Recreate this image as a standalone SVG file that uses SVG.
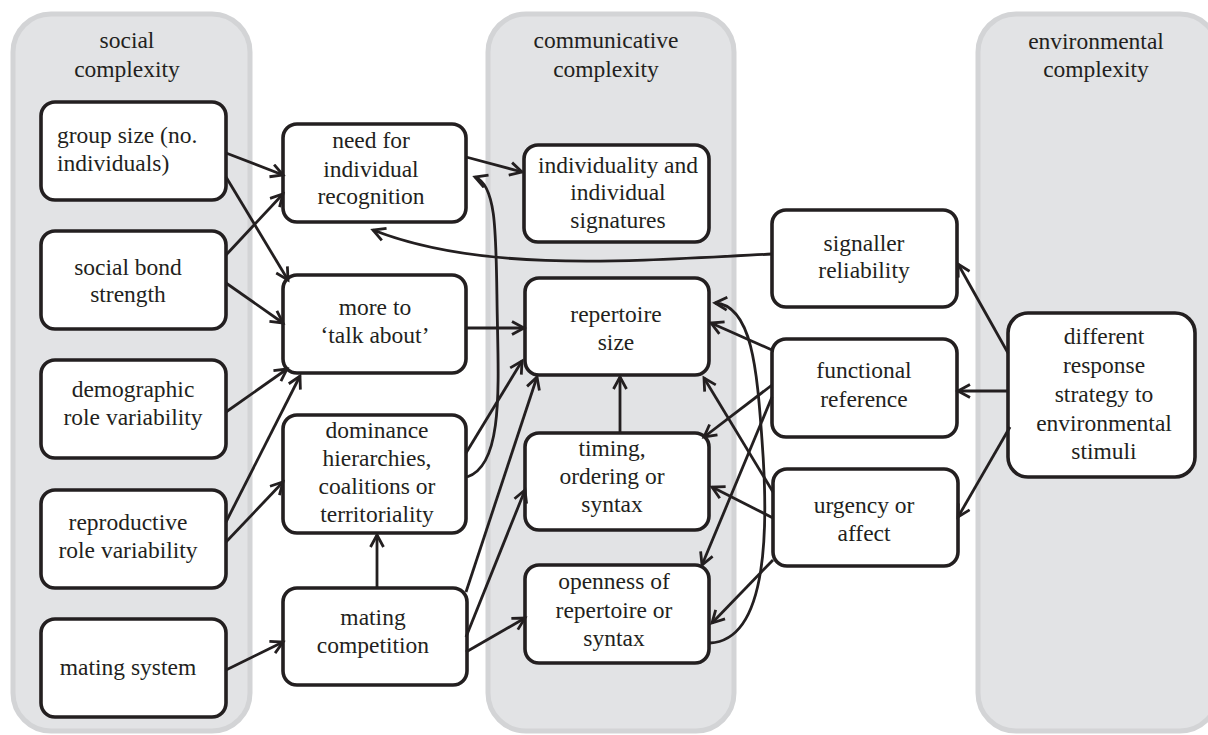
<svg xmlns="http://www.w3.org/2000/svg" width="1208" height="735" viewBox="0 0 1208 735">
<style>
.panel{fill:#e2e3e5;stroke:#d3d4d6;stroke-width:5}
.box{fill:#fff;stroke:#231f20;stroke-width:3.6}
text{font-family:'Liberation Serif','DejaVu Serif',serif;font-size:23.5px;fill:#231f20;text-anchor:middle}
text.l{text-anchor:start}
.c{fill:none;stroke:#231f20;stroke-width:2.8;marker-end:url(#ah)}
</style>
<defs>
<marker id="ah" markerUnits="userSpaceOnUse" markerWidth="18" markerHeight="18" viewBox="0 0 18 18" refX="14" refY="8" orient="auto">
<path d="M2,1.5 L14,8 L2,14.5" fill="none" stroke="#231f20" stroke-width="2.8" stroke-linejoin="miter"/>
</marker>
</defs>
<rect width="1208" height="735" fill="#fff"/>
<g id="panels">
<rect class="panel" x="13" y="14" width="237" height="717" rx="38"/>
<rect class="panel" x="488" y="14" width="246" height="717" rx="38"/>
<rect class="panel" x="978" y="14" width="240" height="717" rx="38"/>
<text x="127" y="48">social</text>
<text x="127" y="77">complexity</text>
<text x="606" y="48">communicative</text>
<text x="606" y="77">complexity</text>
<text x="1096" y="49">environmental</text>
<text x="1096" y="77">complexity</text>
</g>
<g id="group-size"><rect class="box" x="41" y="102" width="185" height="98" rx="14"/><text class="l" x="57" y="143">group size (no.</text><text class="l" x="57" y="171">individuals)</text></g>
<g id="social-bond"><rect class="box" x="41" y="231" width="185" height="98" rx="14"/><text x="128" y="275">social bond</text><text x="128" y="302">strength</text></g>
<g id="demographic"><rect class="box" x="41" y="360" width="185" height="98" rx="14"/><text x="133" y="397">demographic</text><text x="133" y="425">role variability</text></g>
<g id="reproductive"><rect class="box" x="41" y="490" width="185" height="98" rx="14"/><text x="128" y="530">reproductive</text><text x="128" y="558">role variability</text></g>
<g id="mating-system"><rect class="box" x="41" y="619" width="185" height="98" rx="14"/><text x="128" y="675">mating system</text></g>
<g id="need-for"><rect class="box" x="283" y="124" width="183" height="98" rx="14"/><text x="371" y="148">need for</text><text x="371" y="177">individual</text><text x="371" y="204">recognition</text></g>
<g id="more-to"><rect class="box" x="283" y="275" width="183" height="98" rx="14"/><text x="375" y="315">more to</text><text x="375" y="343">‘talk about’</text></g>
<g id="dominance"><rect class="box" x="283" y="415" width="183" height="118" rx="14"/><text x="377" y="438">dominance</text><text x="377" y="466">hierarchies,</text><text x="377" y="494">coalitions or</text><text x="377" y="522">territoriality</text></g>
<g id="mating-competition"><rect class="box" x="283" y="588" width="184" height="97" rx="14"/><text x="373" y="625">mating</text><text x="373" y="653">competition</text></g>
<g id="individuality"><rect class="box" x="524" y="145" width="185" height="97" rx="14"/><text x="618" y="173">individuality and</text><text x="618" y="200">individual</text><text x="618" y="228">signatures</text></g>
<g id="repertoire"><rect class="box" x="525" y="278" width="184" height="97" rx="14"/><text x="616" y="322">repertoire</text><text x="616" y="350">size</text></g>
<g id="timing"><rect class="box" x="525" y="433" width="184" height="97" rx="14"/><text x="612" y="456">timing,</text><text x="612" y="484">ordering or</text><text x="612" y="512">syntax</text></g>
<g id="openness"><rect class="box" x="525" y="565" width="184" height="98" rx="14"/><text x="614" y="589">openness of</text><text x="614" y="618">repertoire or</text><text x="614" y="646">syntax</text></g>
<g id="signaller"><rect class="box" x="772" y="210" width="185" height="97" rx="14"/><text x="864" y="251">signaller</text><text x="864" y="278">reliability</text></g>
<g id="functional"><rect class="box" x="772" y="339" width="185" height="98" rx="14"/><text x="864" y="378">functional</text><text x="864" y="407">reference</text></g>
<g id="urgency"><rect class="box" x="773" y="469" width="185" height="97" rx="14"/><text x="864" y="513">urgency or</text><text x="864" y="541">affect</text></g>
<g id="different"><rect class="box" x="1008" y="313" width="187" height="164" rx="20"/><text x="1104" y="344">different</text><text x="1104" y="373">response</text><text x="1104" y="402">strategy to</text><text x="1104" y="431">environmental</text><text x="1104" y="459">stimuli</text></g>
<g id="connectors">
<path class="c" d="M226,153 L283,175"/>
<path class="c" d="M226,177 L288,280"/>
<path class="c" d="M226,255 L283,194"/>
<path class="c" d="M226,283 L283,323"/>
<path class="c" d="M226,412 L287,369"/>
<path class="c" d="M226,522 L300,376"/>
<path class="c" d="M226,542 L283,482"/>
<path class="c" d="M226,670 L283,642"/>
<path class="c" d="M377,588 L377,535"/>
<path class="c" d="M466,157 L522,172"/>
<path class="c" d="M466,328 L524,328"/>
<path class="c" d="M466,453 L522,361"/>
<path class="c" d="M467,477 C505,465 498,380 497,300 C496,230 496,185 475,177"/>
<path class="c" d="M466,592 L537,377"/>
<path class="c" d="M466,637 L525,490"/>
<path class="c" d="M466,652 L525,618"/>
<path class="c" d="M620,433 L620,377"/>
<path class="c" d="M772,254 C620,262 480,272 373,230"/>
<path class="c" d="M772,350 L711,323"/>
<path class="c" d="M710,643 C770,640 768,520 762,440 C757,370 752,305 715,303"/>
<path class="c" d="M772,385 L704,437"/>
<path class="c" d="M772,397 L702,565"/>
<path class="c" d="M773,492 L704,378"/>
<path class="c" d="M773,518 L712,487"/>
<path class="c" d="M773,560 L712,623"/>
<path class="c" d="M1008,353 L958,264"/>
<path class="c" d="M1008,391 L958,391"/>
<path class="c" d="M1010,427 L958,517"/>
</g>
</svg>
